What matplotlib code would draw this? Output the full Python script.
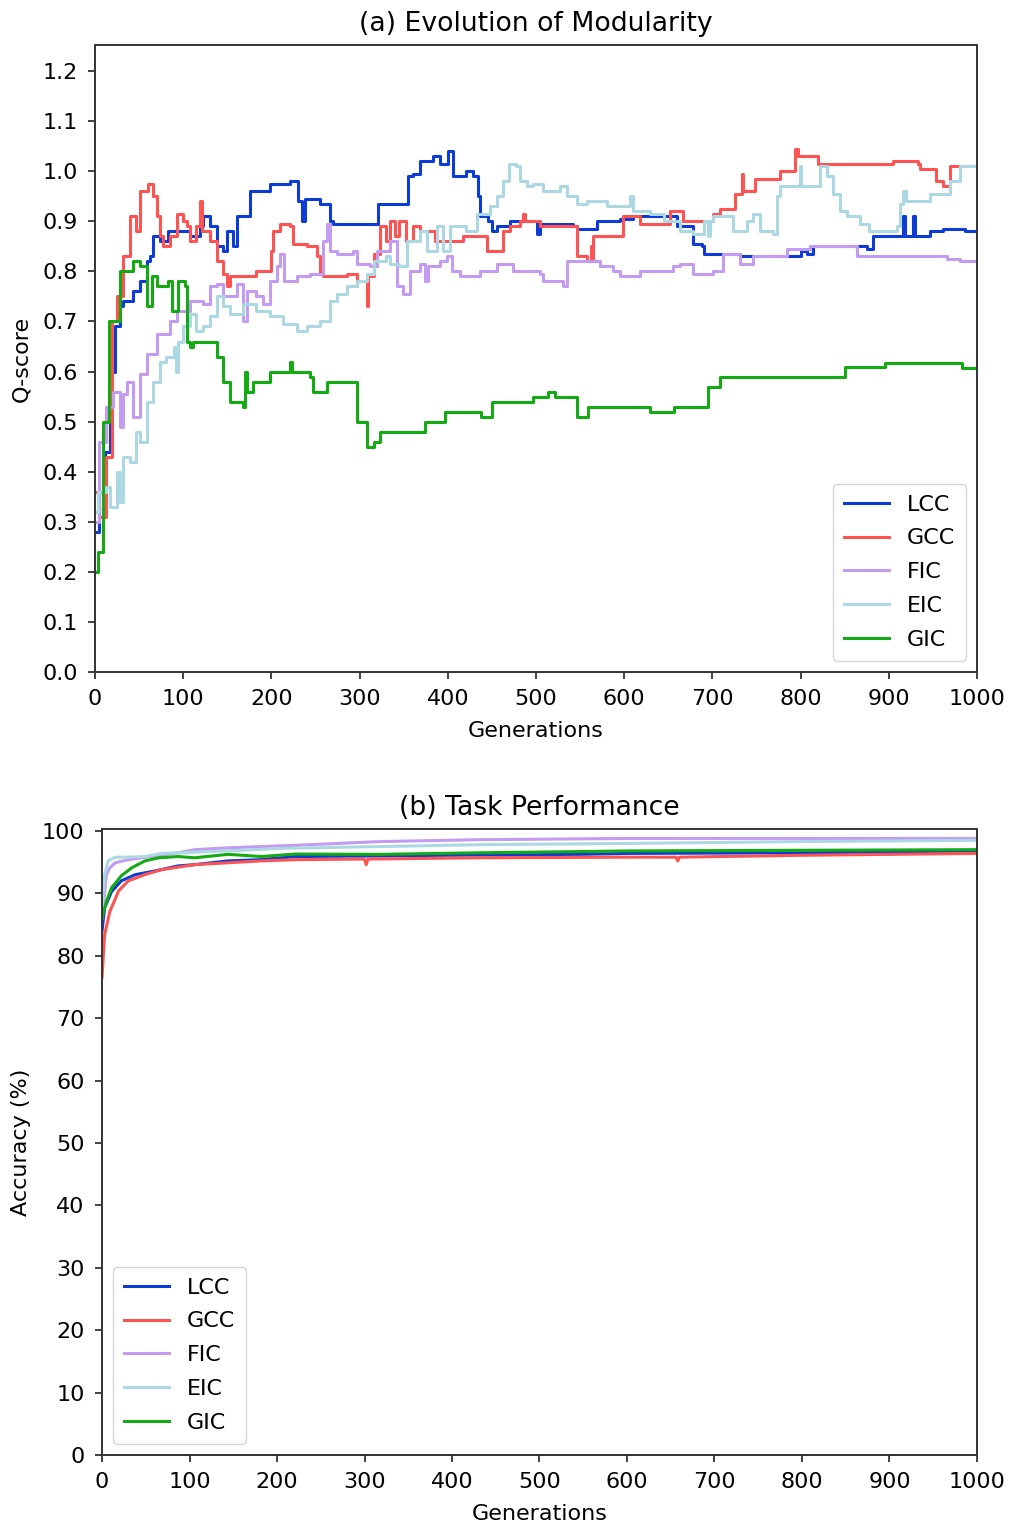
import matplotlib
matplotlib.use("Agg")
import matplotlib.pyplot as plt

plt.rcParams['font.family'] = ['DejaVu Sans']
plt.rcParams['font.size'] = 16

names = ["LCC", "GCC", "FIC", "EIC", "GIC"]
colors = {"LCC": "#0c3bd6", "GCC": "#fd5353", "FIC": "#c39bf0",
          "EIC": "#acd8e4", "GIC": "#14aa14"}

# (a) modularity Q-score (step corners)
q_lcc_x = [0, 5, 11, 17, 23, 28, 32, 43, 51, 59, 62, 66, 74, 83, 96, 108, 119, 122, 130, 138,
           145, 150, 156, 161, 176, 198, 221, 230, 235, 238, 255, 264, 266, 270, 315, 321, 353,
           355, 361, 368, 383, 391, 400, 406, 421, 429, 434, 436, 446, 450, 456, 470, 501, 505,
           542, 546, 569, 595, 610, 660, 678, 688, 690, 712, 731, 773, 800, 807, 814, 867, 875,
           882, 905, 916, 918, 928, 930, 947, 962, 986, 1000]
q_lcc_y = [0.28, 0.36, 0.44, 0.60, 0.69, 0.73, 0.74, 0.76, 0.78, 0.82, 0.83, 0.87, 0.86, 0.88,
           0.88, 0.87, 0.89, 0.91, 0.89, 0.85, 0.84, 0.88, 0.85, 0.91, 0.96, 0.975, 0.98, 0.94,
           0.90, 0.945, 0.935, 0.935, 0.90, 0.895, 0.895, 0.935, 0.935, 0.99, 0.995, 1.02, 1.03,
           1.015, 1.04, 0.99, 1.00, 0.99, 0.95, 0.91, 0.90, 0.88, 0.89, 0.90, 0.875, 0.895, 0.89,
           0.885, 0.90, 0.905, 0.91, 0.89, 0.855, 0.85, 0.835, 0.835, 0.83, 0.83, 0.84, 0.835,
           0.85, 0.85, 0.845, 0.87, 0.87, 0.91, 0.87, 0.91, 0.87, 0.88, 0.885, 0.88, 0.875]

q_gcc_x = [0, 5, 13, 19, 25, 32, 40, 46, 51, 60, 66, 70, 74, 77, 85, 93, 100, 104, 108, 115,
           119, 121, 130, 138, 145, 150, 153, 176, 183, 200, 202, 210, 221, 225, 240, 252, 255,
           259, 286, 297, 308, 310, 316, 323, 330, 334, 340, 345, 353, 360, 368, 386, 417, 444,
           463, 470, 482, 485, 488, 505, 546, 558, 562, 563, 565, 599, 618, 652, 667, 701, 709,
           726, 733, 735, 748, 777, 794, 797, 820, 901, 905, 913, 933, 935, 954, 962, 969, 1000]
q_gcc_y = [0.36, 0.31, 0.43, 0.70, 0.75, 0.83, 0.91, 0.88, 0.96, 0.975, 0.95, 0.91, 0.87, 0.85,
           0.87, 0.915, 0.90, 0.89, 0.86, 0.89, 0.94, 0.88, 0.86, 0.82, 0.795, 0.77, 0.79, 0.79,
           0.80, 0.84, 0.88, 0.895, 0.89, 0.855, 0.85, 0.83, 0.795, 0.79, 0.795, 0.78, 0.73, 0.79,
           0.835, 0.89, 0.86, 0.90, 0.87, 0.90, 0.86, 0.89, 0.88, 0.86, 0.87, 0.84, 0.88, 0.89,
           0.90, 0.915, 0.90, 0.89, 0.83, 0.82, 0.85, 0.82, 0.87, 0.91, 0.895, 0.92, 0.90, 0.915,
           0.925, 0.955, 0.995, 0.96, 0.985, 1.00, 1.045, 1.03, 1.015, 1.015, 1.02, 1.02, 1.015,
           1.005, 0.98, 0.97, 1.01, 1.01]

q_fic_x = [0, 5, 13, 20, 28, 32, 36, 43, 51, 59, 70, 85, 93, 108, 122, 130, 138, 145, 161, 168,
           172, 183, 190, 198, 206, 210, 214, 229, 244, 259, 263, 266, 274, 293, 297, 312, 320,
           334, 342, 349, 357, 368, 374, 378, 391, 399, 405, 414, 436, 456, 474, 505, 508, 527,
           531, 535, 565, 572, 587, 595, 618, 655, 663, 678, 701, 712, 728, 731, 746, 785, 811,
           859, 864, 966, 981, 1000]
q_fic_y = [0.30, 0.46, 0.53, 0.56, 0.49, 0.555, 0.58, 0.51, 0.595, 0.635, 0.675, 0.70, 0.72,
           0.74, 0.735, 0.77, 0.775, 0.75, 0.775, 0.70, 0.76, 0.75, 0.735, 0.78, 0.81, 0.835, 0.78,
           0.79, 0.795, 0.86, 0.895, 0.84, 0.835, 0.84, 0.815, 0.81, 0.84, 0.86, 0.77, 0.755, 0.80,
           0.815, 0.78, 0.81, 0.82, 0.83, 0.80, 0.79, 0.80, 0.815, 0.80, 0.795, 0.78, 0.78, 0.77,
           0.82, 0.82, 0.81, 0.80, 0.79, 0.80, 0.81, 0.815, 0.795, 0.80, 0.835, 0.835, 0.815, 0.83,
           0.845, 0.85, 0.85, 0.83, 0.825, 0.82, 0.82]

q_eic_x = [0, 3, 13, 17, 25, 28, 32, 40, 47, 51, 59, 66, 74, 80, 89, 92, 94, 100, 108, 115, 122,
           130, 138, 145, 153, 168, 183, 198, 213, 229, 240, 255, 266, 274, 286, 297, 308, 316,
           330, 334, 345, 354, 361, 368, 376, 388, 395, 402, 421, 433, 448, 456, 463, 469, 477,
           482, 490, 497, 508, 527, 535, 546, 558, 580, 607, 610, 629, 645, 663, 678, 690, 695,
           697, 701, 723, 739, 746, 754, 769, 773, 777, 799, 801, 822, 830, 837, 845, 853, 867,
           878, 909, 913, 916, 920, 935, 947, 966, 969, 981, 1000]
q_eic_y = [0.32, 0.36, 0.37, 0.33, 0.40, 0.34, 0.43, 0.42, 0.48, 0.46, 0.54, 0.58, 0.62, 0.63,
           0.65, 0.60, 0.66, 0.69, 0.715, 0.68, 0.69, 0.71, 0.75, 0.73, 0.715, 0.735, 0.72, 0.71,
           0.695, 0.68, 0.69, 0.70, 0.74, 0.755, 0.77, 0.78, 0.795, 0.82, 0.83, 0.815, 0.81, 0.86,
           0.86, 0.88, 0.84, 0.89, 0.84, 0.89, 0.88, 0.915, 0.93, 0.95, 0.98, 1.015, 1.01, 0.98,
           0.97, 0.975, 0.96, 0.97, 0.95, 0.935, 0.94, 0.93, 0.95, 0.92, 0.915, 0.90, 0.88, 0.875,
           0.90, 0.87, 0.90, 0.91, 0.88, 0.90, 0.915, 0.88, 0.875, 0.95, 0.97, 1.01, 0.97, 1.01,
           0.99, 0.955, 0.92, 0.91, 0.895, 0.88, 0.89, 0.935, 0.96, 0.94, 0.94, 0.955, 0.955, 0.98,
           1.01, 1.015]

q_gic_x = [0, 3, 9, 16, 28, 43, 51, 59, 65, 70, 83, 87, 94, 102, 104, 108, 111, 133, 138, 145,
           153, 168, 170, 172, 179, 198, 221, 223, 244, 247, 263, 293, 297, 308, 316, 323, 374,
           397, 438, 450, 497, 514, 522, 546, 559, 629, 654, 656, 695, 709, 850, 896, 983, 1000]
q_gic_y = [0.20, 0.24, 0.50, 0.70, 0.80, 0.82, 0.81, 0.73, 0.79, 0.77, 0.78, 0.72, 0.78, 0.77,
           0.66, 0.65, 0.66, 0.66, 0.63, 0.58, 0.54, 0.53, 0.60, 0.56, 0.58, 0.60, 0.62, 0.60, 0.59,
           0.56, 0.58, 0.58, 0.50, 0.45, 0.46, 0.48, 0.50, 0.52, 0.51, 0.54, 0.55, 0.56, 0.55, 0.51,
           0.53, 0.52, 0.52, 0.53, 0.57, 0.59, 0.61, 0.617, 0.607, 0.607]

# (b) accuracy (%)
acc_lcc_x = [0, 3, 11, 22, 38, 61, 87, 106, 144, 182, 221, 318, 432, 546, 603, 800, 1000]
acc_lcc_y = [84, 87.7, 90.3, 92.0, 93.0, 93.6, 94.4, 94.6, 95.2, 95.4, 95.9, 96.0, 96.15, 96.25,
             96.4, 96.5, 96.8]
acc_gcc_x = [0, 3, 9, 19, 30, 49, 68, 106, 144, 182, 221, 300, 302, 304, 432, 603, 656, 658, 660,
             800, 1000]
acc_gcc_y = [76.5, 83.4, 87.1, 90.4, 92.0, 93.0, 93.8, 94.6, 94.9, 95.2, 95.4, 95.5, 94.6, 95.5,
             95.7, 95.8, 95.8, 95.2, 95.8, 96.1, 96.4]
acc_fic_x = [0, 5, 9, 15, 30, 61, 87, 106, 144, 182, 221, 318, 432, 603, 800, 1000]
acc_fic_y = [86, 93.0, 94.1, 94.9, 95.4, 96.0, 96.5, 97.0, 97.3, 97.5, 97.7, 98.3, 98.6, 98.8,
             98.8, 98.8]
acc_eic_x = [0, 3, 7, 15, 30, 49, 68, 106, 144, 203, 318, 432, 603, 800, 1000]
acc_eic_y = [87, 93.0, 95.2, 95.8, 95.8, 95.9, 96.4, 96.6, 96.8, 97.2, 97.5, 97.8, 98.0, 98.3, 98.5]
acc_gic_x = [0, 5, 11, 22, 34, 49, 65, 87, 106, 144, 182, 221, 318, 432, 546, 603, 800, 1000]
acc_gic_y = [86.1, 88.7, 90.9, 92.8, 94.1, 95.2, 95.7, 95.9, 95.7, 96.25, 95.9, 96.3, 96.25, 96.5,
             96.7, 96.8, 96.9, 97.0]

q_data = {"LCC": (q_lcc_x, q_lcc_y), "GCC": (q_gcc_x, q_gcc_y), "FIC": (q_fic_x, q_fic_y),
          "EIC": (q_eic_x, q_eic_y), "GIC": (q_gic_x, q_gic_y)}
acc_data = {"LCC": (acc_lcc_x, acc_lcc_y), "GCC": (acc_gcc_x, acc_gcc_y),
            "FIC": (acc_fic_x, acc_fic_y), "EIC": (acc_eic_x, acc_eic_y),
            "GIC": (acc_gic_x, acc_gic_y)}


def style_axes(ax):
    for sp in ax.spines.values():
        sp.set_linewidth(1.4)
        sp.set_color("#333333")
    ax.tick_params(length=5, width=1.3, color="#333333", pad=7.5)


def add_legend(ax, loc):
    ax.legend(loc=loc, labelspacing=0.62, handlelength=2.0, borderpad=0.5)


fig = plt.figure(figsize=(10.12, 15.26), dpi=100)

# top panel
ax1 = fig.add_axes([0.0939, 0.5596, 0.8715, 0.4109])
for n in names:
    xs, ys = q_data[n]
    ax1.plot(xs, ys, drawstyle="steps-post", color=colors[n], lw=2.2, label=n)
ax1.set_xlim(0, 1000)
ax1.set_ylim(0, 1.252)
ax1.set_xticks(range(0, 1001, 100))
ax1.set_yticks([i / 10 for i in range(13)])
ax1.set_yticklabels([f"{i / 10:.1f}" for i in range(13)])
ax1.set_xlabel("Generations", labelpad=8)
ax1.set_ylabel("Q-score", labelpad=8)
ax1.set_title("(a) Evolution of Modularity", pad=10)
add_legend(ax1, "lower right")
style_axes(ax1)

# bottom panel
ax2 = fig.add_axes([0.1008, 0.0465, 0.8646, 0.4102])
for n in names:
    xs, ys = acc_data[n]
    ax2.plot(xs, ys, color=colors[n], lw=2.2, label=n)
ax2.set_xlim(0, 1000)
ax2.set_ylim(0, 100.3)
ax2.set_xticks(range(0, 1001, 100))
ax2.set_yticks(range(0, 101, 10))
ax2.set_xlabel("Generations", labelpad=8)
ax2.set_ylabel("Accuracy (%)", labelpad=8)
ax2.set_title("(b) Task Performance", pad=10)
add_legend(ax2, "lower left")
style_axes(ax2)

fig.savefig("out.png", dpi=100)
